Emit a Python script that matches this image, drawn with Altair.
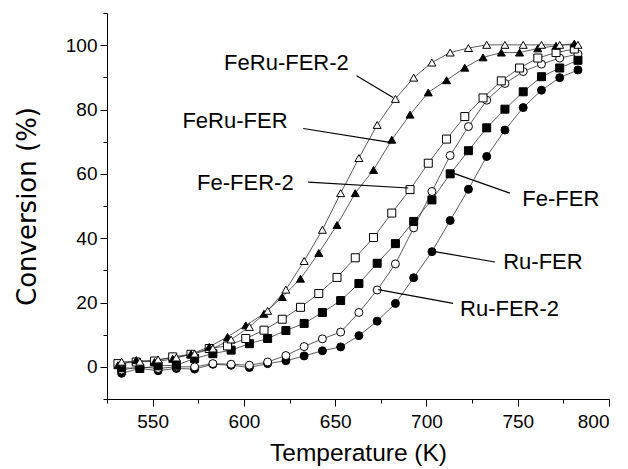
import altair as alt
import pandas as pd

# Temperatures (K) of the measurement points
TEMP_A = [531, 541, 551, 561, 571, 581, 591, 601, 611, 621, 631, 641, 651,
          661, 671, 681, 691, 701, 711, 721, 731, 741, 751, 761, 771, 781]
TEMP_B = [533, 543, 553, 563, 573, 583, 593, 603, 613, 623, 633, 643, 653,
          663, 673, 683, 693, 703, 713, 723, 733, 743, 753, 763, 773, 783]

SERIES = ["Ru-FER", "Ru-FER-2", "Fe-FER", "Fe-FER-2", "FeRu-FER", "FeRu-FER-2"]

ru_fer = [-2.0, -0.5, -1.2, -0.5, -0.7, 0.8, 0.5, -0.2, 1.0, 1.9, 3.4, 5.0, 6.2,
          9.7, 14.2, 19.7, 27.7, 35.8, 45.5, 55.2, 65.4, 73.6, 80.6, 86.0, 89.9, 92.3]
ru_fer2 = [-1.0, 0.0, -0.5, 0.0, 0.0, 1.0, 0.8, 0.5, 1.5, 3.5, 6.3, 8.7, 10.8,
           16.9, 23.9, 32.0, 43.2, 54.5, 65.7, 74.7, 82.9, 88.1, 91.8, 94.1, 96.0, 97.2]
fe_fer = [-0.3, -0.5, 0.3, 0.5, 2.6, 4.1, 5.2, 7.2, 8.8, 11.3, 13.5, 16.9, 20.6,
          25.9, 32.2, 38.3, 45.2, 51.9, 60.0, 67.2, 74.3, 80.1, 85.5, 90.2, 92.9, 95.3]
fe_fer2 = [1.0, 1.5, 1.8, 3.1, 3.9, 5.7, 6.5, 8.8, 11.4, 14.8, 18.5, 22.8, 27.8,
           33.9, 40.2, 47.8, 55.1, 63.3, 70.8, 77.8, 83.6, 88.9, 92.9, 96.0, 97.7, 98.8]
feru_fer = [0.5, 2.1, 1.5, 2.5, 4.0, 6.2, 9.3, 12.9, 16.5, 21.7, 27.4, 35.4, 44.1,
            54.0, 61.2, 70.6, 78.4, 85.3, 89.1, 93.0, 96.2, 97.7, 97.7, 99.0, 99.8, 100.5]
feru_fer2 = [1.6, 1.6, 2.3, 2.9, 4.1, 5.7, 8.5, 12.4, 17.4, 24.0, 32.9, 42.6, 54.0,
             64.9, 75.2, 83.3, 89.9, 94.6, 97.7, 99.1, 100.1, 100.1, 100.1, 100.1, 100.1, 100.1]

SERIES_VALUES = [ru_fer, ru_fer2, fe_fer, fe_fer2, feru_fer, feru_fer2]
SERIES_TEMPS = [TEMP_B, TEMP_B, TEMP_B, TEMP_A, TEMP_A, TEMP_B]
SHAPES = ["circle", "circle", "square", "square", "triangle-up", "triangle-up"]
FILLS = ["black", "white", "black", "white", "black", "white"]
SIZES = [64, 64, 56, 56, 95, 95]

# Annotations
LABELS = ["FeRu-FER-2", "FeRu-FER", "Fe-FER-2", "Fe-FER", "Ru-FER", "Ru-FER-2"]
LABEL_T = [623.3, 595.1, 600.8, 773.6, 763.8, 745.5]
LABEL_V = [94.5, 76.5, 57.1, 52.2, 32.6, 18.1]
LEADER_T1 = [661.7, 632.5, 635.2, 745.7, 737.5, 714.6]
LEADER_V1 = [90.5, 74.1, 57.4, 54.0, 32.6, 19.7]
LEADER_T2 = [681.7, 680.0, 690.0, 714.6, 703.7, 673.6]
LEADER_V2 = [83.7, 69.8, 55.6, 60.2, 35.9, 24.0]

X_TICKS = [525, 550, 575, 600, 625, 650, 675, 700, 725, 750, 775, 800]
Y_MAJOR = [0, 20, 40, 60, 80, 100]
Y_MINOR = [-10, 10, 30, 50, 70, 90, 110]

rows = []
for name, temps, vals in zip(SERIES, SERIES_TEMPS, SERIES_VALUES):
    for t, v in zip(temps, vals):
        rows.append({"series": name, "T": t, "conv": v})
df = pd.DataFrame(rows)

ann = pd.DataFrame({"label": LABELS, "tx": LABEL_T, "ty": LABEL_V,
                    "x1": LEADER_T1, "y1": LEADER_V1, "x2": LEADER_T2, "y2": LEADER_V2})

FONT = "Liberation Sans"

xscale = alt.Scale(domain=[525, 800], nice=False, zero=False)
yscale = alt.Scale(domain=[-10, 110], nice=False, zero=False)

xaxis = alt.Axis(
    values=X_TICKS,
    labelExpr="datum.value % 50 == 0 ? datum.label : ''",
    tickSize={"condition": {"test": "datum.value % 50 == 0", "value": 7}, "value": 4},
    grid=False, title="Temperature (K)", format="d", labelOverlap=False,
    labelFontSize=19, titleFontSize=24.5, labelPadding=6, titlePadding=10,
)
yaxis_major = alt.Axis(
    values=Y_MAJOR, tickSize=7, orient="left",
    grid=False, title="Conversion (%)", format="d", labelOverlap=False,
    labelFontSize=19, titleFontSize=26, titleFont="DejaVu Sans",
    labelPadding=3, titlePadding=25,
)
yaxis_minor = alt.Axis(
    values=Y_MINOR, tickSize=4, orient="left", labels=False, title=None,
    grid=False, domain=False,
)

base = alt.Chart(df)

lines = base.mark_line(color="#333333", strokeWidth=0.8).encode(
    x=alt.X("T:Q", scale=xscale, axis=xaxis),
    y=alt.Y("conv:Q", scale=yscale, axis=yaxis_major),
    detail="series:N",
)

points = base.mark_point(filled=False, stroke="black", strokeWidth=1, opacity=1).encode(
    x=alt.X("T:Q", scale=xscale),
    y=alt.Y("conv:Q", scale=yscale, axis=yaxis_minor),
    shape=alt.Shape("series:N", scale=alt.Scale(domain=SERIES, range=SHAPES), legend=None),
    fill=alt.Fill("series:N", scale=alt.Scale(domain=SERIES, range=FILLS), legend=None),
    size=alt.Size("series:N", scale=alt.Scale(domain=SERIES, range=SIZES), legend=None),
)

leaders = alt.Chart(ann).mark_rule(color="black", strokeWidth=1.2).encode(
    x=alt.X("x1:Q", scale=xscale), y=alt.Y("y1:Q", scale=yscale, axis=None),
    x2="x2:Q", y2="y2:Q",
)

texts = alt.Chart(ann).mark_text(font=FONT, fontSize=22, color="black",
                                 align="center", baseline="middle").encode(
    x=alt.X("tx:Q", scale=xscale), y=alt.Y("ty:Q", scale=yscale, axis=None), text="label:N",
)

chart = alt.layer(lines, points, leaders, texts).resolve_axis(y="independent").properties(
    width=502, height=386,
    autosize=alt.AutoSizeParams(type="none"),
    padding={"left": 107, "top": 13, "right": 19, "bottom": 70},
    background="white",
).configure_view(stroke=None).configure_axis(
    labelFont=FONT, titleFont=FONT, labelColor="black", titleColor="black",
    titleFontWeight="normal", domainColor="black", tickColor="black",
    domainWidth=1, tickWidth=1,
)

chart.save("out.html", embed_options={"renderer": "svg", "actions": False})
